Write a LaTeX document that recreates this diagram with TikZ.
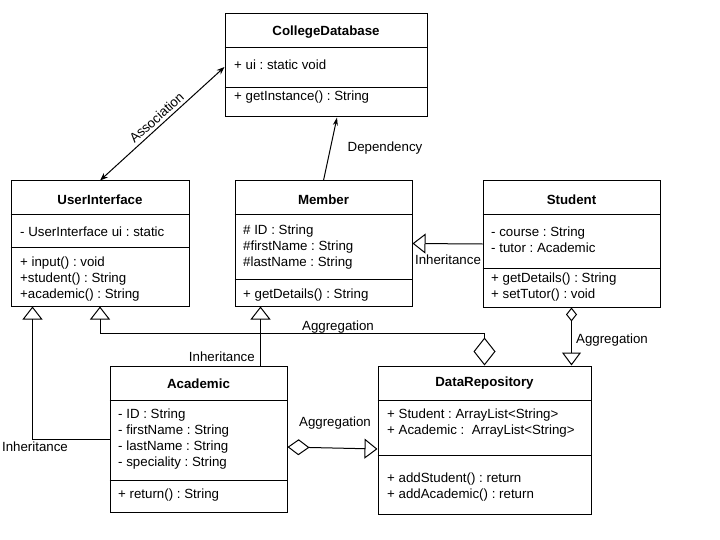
\documentclass[tikz,border=0pt]{standalone}
\usepackage{fontspec}
\setmainfont{Liberation Sans}
\usetikzlibrary{arrows.meta}
\frenchspacing
\begin{document}
\begin{tikzpicture}[x=1pt,y=-1pt,
  box/.style={draw, line width=1pt, inner sep=0pt},
  ttl/.style={font=\fontsize{13.3}{16}\selectfont\bfseries, inner sep=0pt, yshift=-1.5pt},
  txt/.style={font=\fontsize{13.3}{16}\selectfont, inner sep=0pt, anchor=west, align=left, yshift=-1.5pt},
  lbl/.style={font=\fontsize{13.3}{16}\selectfont, inner sep=0pt},
  conn/.style={line width=1pt},
  inh/.style={conn, -{Triangle[open,length=13pt,width=20pt]}},
  assoc/.style={conn, {Stealth[length=8pt,width=6pt]}-{Stealth[length=8pt,width=6pt]}},
  dep/.style={conn, -{Stealth[length=8pt,width=5pt]}}
]
\useasboundingbox (0,0) rectangle (720,540);

% ---------- CollegeDatabase ----------
\node[box, minimum width=202pt, minimum height=103pt] (cd) at (326,65.5) {};
\draw[conn] (cd.west |- 0,48) -- (cd.east |- 0,48);
\draw[conn] (cd.west |- 0,88) -- (cd.east |- 0,88);
\node[ttl] (cdt) at (326,31) {CollegeDatabase};
\node[txt] (cda) at (234,63) {+ ui : static void};
\node[txt] (cdm) at (234,96) {+ getInstance() : String};

% ---------- UserInterface ----------
\node[box, minimum width=178pt, minimum height=125pt] (ui) at (100,243.5) {};
\draw[conn] (ui.west |- 0,215) -- (ui.east |- 0,215);
\draw[conn] (ui.west |- 0,247) -- (ui.east |- 0,247);
\node[ttl] (uit) at (100,198) {UserInterface};
\node[txt] (uia) at (20,230) {- UserInterface ui : static};
\node[txt] (uim) at (20,278) {+ input() : void\\+student() : String\\+academic() : String};

% ---------- Member ----------
\node[box, minimum width=177pt, minimum height=125pt] (m) at (323.5,243.5) {};
\draw[conn] (m.west |- 0,215) -- (m.east |- 0,215);
\draw[conn] (m.west |- 0,279) -- (m.east |- 0,279);
\node[ttl] (mt) at (323.5,198) {Member};
\node[txt] (ma) at (243,245.5) {\# ID : String\\\#firstName : String\\\#lastName : String};
\node[txt] (mm) at (243,294) {+ getDetails() : String};

% ---------- Student ----------
\node[box, minimum width=177pt, minimum height=126pt] (s) at (571.5,244) {};
\draw[conn] (s.west |- 0,215) -- (s.east |- 0,215);
\draw[conn] (s.west |- 0,268) -- (s.east |- 0,268);
\node[ttl] (st) at (571.5,198) {Student};
\node[txt] (sa) at (491,238) {- course : String\\- tutor : Academic};
\node[txt] (sm) at (491,286) {+ getDetails() : String\\+ setTutor() : void};

% ---------- Academic ----------
\node[box, minimum width=177pt, minimum height=146pt] (a) at (198.5,439) {};
\draw[conn] (a.west |- 0,400) -- (a.east |- 0,400);
\draw[conn] (a.west |- 0,480) -- (a.east |- 0,480);
\node[ttl] (at) at (198.5,382) {Academic};
\node[txt] (aa) at (118,438) {- ID : String\\- firstName : String\\- lastName : String\\- speciality : String};
\node[txt] (am) at (118,494) {+ return() : String};

% ---------- DataRepository ----------
\node[box, minimum width=213pt, minimum height=148pt] (dr) at (484.5,440) {};
\draw[conn] (dr.west |- 0,400) -- (dr.east |- 0,400);
\draw[conn] (dr.west |- 0,455) -- (dr.east |- 0,455);
\node[ttl] (drt) at (484.5,382) {DataRepository};
\node[txt] (dra) at (387,422) {+ Student : ArrayList<String>\\+ Academic :\ \ ArrayList<String>};
\node[txt] (drm) at (387,486) {+ addStudent() : return\\+ addAcademic() : return};

% ---------- Connectors ----------
% Association
\draw[assoc] (ui.north) -- ([yshift=-1.5pt]cd.west)
  node[midway, sloped, above=3pt, lbl] (lassoc) {Association};

% Dependency
\draw[dep] (m.north) -- ([xshift=11pt]cd.south);
\node[lbl] (ldep) at (385,148) {Dependency};

% Student -> Member inheritance
\draw[inh] (s.west) -- (m.east);
\node[lbl] (linh1) at (448,260) {Inheritance};

% Student -> DataRepository aggregation
\draw[conn, {Diamond[open,length=14pt,width=11pt]}-{Triangle[open,length=13pt,width=19pt]}]
  (s.south) -- (s.south |- dr.north);
\node[lbl] (lagg1) at (612,340) {Aggregation};

% Academic -> Member inheritance
\draw[inh] ([xshift=-27pt]a.north east) -- ([xshift=-27pt]a.north east |- m.south);
\node[lbl, anchor=east] (linh2) at (255,357) {Inheritance};

% Academic -> UserInterface inheritance
\draw[inh] (a.west) -| ([xshift=22pt]ui.south west);
\node[lbl] (linh3) at (35,447) {Inheritance};

% DataRepository -> UserInterface aggregation
\draw[conn, {Diamond[open,length=28pt,width=22pt]}-{Triangle[open,length=13pt,width=20pt]}]
  (dr.north) -- ++(0,-32) -| (ui.south);
\node[lbl] (lagg2) at (338,327) {Aggregation};

% Academic -> DataRepository aggregation
\draw[conn, {Diamond[open,length=22pt,width=16pt]}-{Triangle[open,length=13pt,width=20pt]}]
  ([yshift=-8pt]a.east) -- ([yshift=-9pt]dr.west);
\node[lbl] (lagg3) at (335,423) {Aggregation};
\end{tikzpicture}
\end{document}
